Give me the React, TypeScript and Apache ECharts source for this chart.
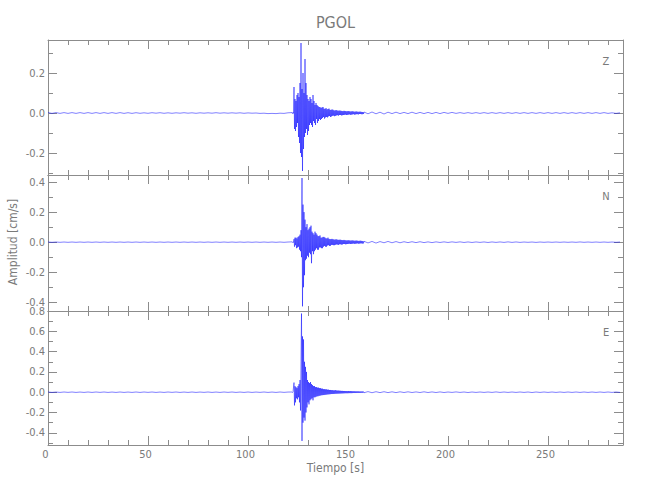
import React, { useEffect, useRef } from "react";
import * as echarts from "echarts";

const TITLE = "PGOL";
const X_NAME = "Tiempo [s]";
const Y_NAME = "Amplitud [cm/s]";
const CHANNELS = ["Z", "N", "E"];
const X_MAX = 287.5;
const X_MAJOR = [0, 50, 100, 150, 200, 250];
const X_MINOR = [10, 20, 30, 40, 60, 70, 80, 90, 110, 120, 130, 140, 160, 170, 180, 190, 210, 220, 230, 240, 260, 270, 280];

const Y_RANGES: [number, number][] = [[-0.31, 0.365], [-0.458, 0.447], [-0.52, 0.8]];
const Y_MAJOR = [[-0.2, 0, 0.2], [-0.4, -0.2, 0, 0.2, 0.4], [-0.4, -0.2, 0, 0.2, 0.4, 0.6, 0.8]];
const Y_MINOR = [[-0.3, -0.1, 0.1, 0.3], [-0.3, -0.1, 0.1, 0.3], [-0.5, -0.3, -0.1, 0.1, 0.3, 0.5, 0.7]];

// sampling of the three read segments (seconds)
const PRE_T0 = 0, PRE_DT = 2;
const EVT_T0 = 122, EVT_DT = 0.25;
const POST_T0 = 158, POST_DT = 2;

const zPre = [0.002, -0.002, 0.002, -0.002, 0.002, -0.002, 0.002, -0.002, 0.002, -0.002,
  0.002, -0.002, 0.002, -0.002, 0.002, -0.002, 0.002, -0.002, 0.002, -0.002,
  0.0015, -0.002, 0.0015, -0.0015, 0.001, -0.0015, 0.0015, -0.001, 0.0015, -0.0015,
  0.001, -0.0015, 0.001, -0.001, 0.0015, -0.001, 0.001, -0.0015, 0.001, -0.001,
  0.001, -0.001, 0.0015, -0.001, 0.001, -0.001, 0.001, -0.001, 0.001, -0.0015,
  0.0005, -0.001, 0.0, -0.002, -0.001, -0.003, -0.002, -0.003, -0.001, -0.002,
  0.001];
const zEvt = [0.002, -0.003, 0.003, -0.002, 0.13, -0.08, 0.07, -0.09,
  0.06, -0.07, 0.09, -0.05, 0.1, -0.12, 0.08, -0.15,
  0.15, -0.2, 0.35, -0.22, 0.12, -0.29, 0.2, -0.18,
  0.1, -0.12, 0.27, -0.1, 0.15, -0.08, 0.09, -0.11,
  0.07, -0.09, 0.06, -0.06, 0.08, -0.05, 0.07, -0.06,
  0.05, -0.07, 0.09, -0.04, 0.06, -0.05, 0.04, -0.06,
  0.05, -0.03, 0.04, -0.05, 0.035, -0.04, 0.03, -0.03,
  0.03, -0.035, 0.025, -0.03, 0.028, -0.025, 0.03, -0.02,
  0.022, -0.028, 0.02, -0.022, 0.025, -0.02, 0.018, -0.022,
  0.02, -0.017, 0.022, -0.015, 0.016, -0.02, 0.015, -0.017,
  0.018, -0.014, 0.016, -0.013, 0.013, -0.016, 0.012, -0.014,
  0.015, -0.012, 0.013, -0.011, 0.011, -0.013, 0.012, -0.01,
  0.012, -0.01, 0.011, -0.012, 0.01, -0.011, 0.009, -0.01,
  0.011, -0.009, 0.01, -0.008, 0.009, -0.01, 0.008, -0.009,
  0.01, -0.008, 0.009, -0.007, 0.008, -0.009, 0.007, -0.008,
  0.009, -0.007, 0.008, -0.006, 0.007, -0.008, 0.006, -0.007,
  0.008, -0.006, 0.007, -0.006, 0.006, -0.007, 0.006, -0.005,
  0.007, -0.005, 0.006, -0.006, 0.005, -0.006, 0.005, -0.005];
const zPost = [0.005, -0.004, 0.005, -0.004, 0.004, -0.005, 0.004, -0.003, 0.004, -0.003,
  0.003, -0.003, 0.004, -0.003, 0.003, -0.003, 0.003, -0.003, 0.003, -0.003,
  0.003, -0.002, 0.003, -0.002, 0.002, -0.002, 0.002, -0.002, 0.002, -0.002,
  0.002, -0.002, 0.002, -0.002, 0.002, -0.002, 0.002, -0.002, 0.002, -0.002,
  0.002, -0.002, 0.002, -0.002, 0.002, -0.002, 0.002, -0.002, 0.002, -0.002,
  0.002, -0.002, 0.002, -0.002, 0.002, -0.002, 0.002, -0.002, 0.002, -0.002,
  0.002, -0.002, 0.001, -0.002, 0.001];

const nPre = [0.001, -0.001, 0.001, -0.001, 0.001, -0.001, 0.001, -0.001, 0.001, -0.001,
  0.001, -0.001, 0.001, -0.001, 0.001, -0.001, 0.001, -0.001, 0.001, -0.001,
  0.001, -0.001, 0.001, -0.001, 0.001, -0.001, 0.001, -0.001, 0.001, -0.001,
  0.001, -0.001, 0.001, -0.001, 0.001, -0.001, 0.001, -0.001, 0.001, -0.001,
  0.001, -0.001, 0.001, -0.001, 0.001, -0.001, 0.001, -0.001, 0.001, -0.001,
  0.001, -0.001, 0.001, -0.001, 0.001, -0.001, 0.001, -0.001, 0.001, -0.001,
  0.001];
const nEvt = [0.002, -0.002, 0.003, -0.002, 0.02, -0.03, 0.03, -0.02,
  0.03, -0.04, 0.025, -0.035, 0.035, -0.03, 0.04, -0.05,
  0.05, -0.06, 0.08, -0.1, 0.427, -0.427, 0.25, -0.3,
  0.2, -0.22, 0.15, -0.12, 0.1, -0.11, 0.12, -0.09,
  0.08, -0.1, 0.09, -0.07, 0.1, -0.08, 0.11, -0.14,
  0.07, -0.06, 0.06, -0.08, 0.05, -0.06, 0.07, -0.05,
  0.06, -0.04, 0.05, -0.05, 0.04, -0.05, 0.04, -0.035,
  0.045, -0.035, 0.03, -0.04, 0.03, -0.04, 0.035, -0.03,
  0.035, -0.025, 0.03, -0.03, 0.025, -0.03, 0.025, -0.022,
  0.03, -0.02, 0.022, -0.025, 0.02, -0.024, 0.02, -0.018,
  0.022, -0.018, 0.019, -0.02, 0.018, -0.02, 0.016, -0.017,
  0.02, -0.015, 0.017, -0.016, 0.016, -0.018, 0.015, -0.014,
  0.017, -0.014, 0.015, -0.016, 0.014, -0.015, 0.013, -0.012,
  0.015, -0.012, 0.013, -0.014, 0.012, -0.013, 0.011, -0.012,
  0.013, -0.011, 0.012, -0.01, 0.011, -0.012, 0.01, -0.011,
  0.012, -0.01, 0.011, -0.009, 0.01, -0.011, 0.009, -0.01,
  0.011, -0.009, 0.01, -0.008, 0.009, -0.01, 0.008, -0.009,
  0.01, -0.008, 0.009, -0.008, 0.008, -0.009, 0.007, -0.008];
const nPost = [0.006, -0.005, 0.005, -0.006, 0.004, -0.004, 0.005, -0.004, 0.004, -0.004,
  0.003, -0.003, 0.003, -0.003, 0.003, -0.003, 0.002, -0.003, 0.002, -0.002,
  0.002, -0.002, 0.002, -0.0015, 0.002, -0.002, 0.0015, -0.002, 0.0015, -0.0015,
  0.0015, -0.002, 0.0015, -0.0015, 0.0015, -0.0015, 0.002, -0.0015, 0.0015, -0.0015,
  0.001, -0.001, 0.001, -0.0015, 0.001, -0.001, 0.001, -0.001, 0.001, -0.001,
  0.001, -0.001, 0.001, -0.001, 0.0015, -0.001, 0.001, -0.001, 0.001, -0.001,
  0.001, -0.001, 0.001, -0.001, 0.001];

const ePre = [0.002, -0.002, 0.0015, -0.002, 0.002, -0.0015, 0.002, -0.002, 0.0015, -0.002,
  0.002, -0.002, 0.002, -0.0015, 0.002, -0.002, 0.0015, -0.002, 0.002, -0.002,
  0.0015, -0.002, 0.002, -0.002, 0.002, -0.0015, 0.002, -0.002, 0.0015, -0.002,
  0.002, -0.0015, 0.002, -0.002, 0.0015, -0.002, 0.002, -0.002, 0.0015, -0.0015,
  0.002, -0.002, 0.0015, -0.002, 0.002, -0.0015, 0.002, -0.002, 0.0015, -0.002,
  0.002, -0.002, 0.0015, -0.0015, 0.002, -0.002, 0.0015, -0.002, 0.002, -0.0015,
  0.0015];
const eEvt = [0.002, -0.003, 0.002, -0.002, 0.095, -0.13, 0.06, -0.1,
  0.05, -0.06, 0.04, -0.07, 0.06, -0.05, 0.08, -0.1,
  0.12, -0.18, 0.3, 0.775, -0.48, 0.55, -0.3, 0.52,
  -0.25, 0.3, -0.28, 0.25, -0.2, 0.2, -0.15, 0.12,
  -0.1, 0.1, -0.12, 0.09, -0.08, 0.1, -0.07, 0.08,
  -0.06, 0.07, -0.08, 0.06, -0.05, 0.06, -0.05, 0.05,
  -0.045, 0.05, -0.04, 0.045, -0.04, 0.045, -0.035, 0.04,
  -0.035, 0.04, -0.03, 0.035, -0.03, 0.035, -0.028, 0.03,
  -0.028, 0.03, -0.025, 0.028, -0.025, 0.028, -0.022, 0.025,
  -0.022, 0.025, -0.02, 0.022, -0.02, 0.022, -0.018, 0.02,
  -0.018, 0.02, -0.017, 0.018, -0.017, 0.018, -0.015, 0.02,
  -0.015, 0.017, -0.014, 0.016, -0.014, 0.016, -0.013, 0.015,
  -0.013, 0.014, -0.012, 0.013, -0.012, 0.013, -0.011, 0.012,
  -0.011, 0.012, -0.01, 0.011, -0.01, 0.011, -0.01, 0.01,
  -0.01, 0.012, -0.009, 0.01, -0.009, 0.011, -0.009, 0.01,
  -0.009, 0.009, -0.008, 0.009, -0.008, 0.009, -0.008, 0.008,
  -0.008, 0.008, -0.007, 0.008, -0.007, 0.008, -0.007, 0.007,
  -0.007, 0.007, -0.006, 0.007, -0.006, 0.007, -0.006, 0.006];
const ePost = [-0.005, 0.006, -0.005, 0.005, -0.004, 0.005, -0.004, 0.004, -0.004, 0.004,
  -0.003, 0.004, -0.003, 0.003, -0.003, 0.004, -0.003, 0.003, -0.003, 0.003,
  -0.003, 0.002, -0.002, 0.003, -0.002, 0.002, -0.003, 0.002, -0.002, 0.002,
  -0.002, 0.002, -0.002, 0.003, -0.002, 0.002, -0.002, 0.002, -0.002, 0.002,
  -0.002, 0.002, -0.003, 0.002, -0.002, 0.002, -0.002, 0.002, -0.002, 0.002,
  -0.002, 0.002, -0.002, 0.002, -0.002, 0.002, -0.002, 0.002, -0.002, 0.002,
  -0.002, 0.002, -0.002, 0.002, -0.002];

const SEGMENTS = [
  [zPre, zEvt, zPost],
  [nPre, nEvt, nPost],
  [ePre, eEvt, ePost],
];

const AXIS_COLOR = "#8c8c8c";
const TEXT_COLOR = "#7a7a7a";
const FONT = "'DejaVu Sans Condensed', 'DejaVu Sans', sans-serif";
const TRACE_COLOR = "#0000ff";

const GRID_LEFT = 48;
const GRID_WIDTH = 575;
const GRID_TOPS = [40, 175, 311];
const GRID_HEIGHTS = [135, 136, 134];

function buildTrace(seg: number[][]) {
  const [pre, evt, post] = seg;
  const out: number[][] = [];
  pre.forEach((v, i) => out.push([PRE_T0 + i * PRE_DT, v]));
  evt.forEach((v, i) => out.push([EVT_T0 + i * EVT_DT, v]));
  post.forEach((v, i) => out.push([POST_T0 + i * POST_DT, v]));
  return out;
}

const hiddenLine = { show: false, onZero: false, lineStyle: { color: AXIS_COLOR, width: 1 } };
const shownLine = { show: true, onZero: false, lineStyle: { color: AXIS_COLOR, width: 1 } };

function xAxesFor(g: number, labels: boolean) {
  const base = {
    type: "value",
    gridIndex: g,
    min: 0,
    max: X_MAX,
    splitLine: { show: false },
    axisLine: hiddenLine,
    axisLabel: { show: false },
  };
  return [
    {
      ...base,
      position: "bottom",
      axisLine: shownLine,
      axisTick: { show: true, inside: true, length: 9, customValues: X_MAJOR, lineStyle: { color: AXIS_COLOR } },
      axisLabel: {
        show: labels,
        customValues: X_MAJOR,
        color: TEXT_COLOR,
        fontFamily: FONT,
        fontSize: 11,
        margin: 4,
        padding: [0, 5, 0, 0],
        formatter: (v: number) => String(v),
      },
    },
    {
      ...base,
      position: "bottom",
      axisTick: { show: true, inside: true, length: 5, customValues: X_MINOR, lineStyle: { color: AXIS_COLOR } },
    },
    {
      ...base,
      position: "top",
      axisLine: shownLine,
      axisTick: { show: true, inside: true, length: 9, customValues: X_MAJOR, lineStyle: { color: AXIS_COLOR } },
    },
    {
      ...base,
      position: "top",
      axisTick: { show: true, inside: true, length: 5, customValues: X_MINOR, lineStyle: { color: AXIS_COLOR } },
    },
  ];
}

function yAxesFor(g: number) {
  const [mn, mx] = Y_RANGES[g];
  const base = {
    type: "value",
    gridIndex: g,
    min: mn,
    max: mx,
    splitLine: { show: false },
    axisLine: hiddenLine,
    axisLabel: { show: false },
  };
  return [
    {
      ...base,
      position: "left",
      axisLine: shownLine,
      axisTick: { show: true, inside: true, length: 9, customValues: Y_MAJOR[g], lineStyle: { color: AXIS_COLOR } },
      axisLabel: {
        show: true,
        customValues: Y_MAJOR[g],
        color: TEXT_COLOR,
        fontFamily: FONT,
        fontSize: 11,
        margin: 3,
        formatter: (v: number) => v.toFixed(1),
      },
    },
    {
      ...base,
      position: "left",
      axisTick: { show: true, inside: true, length: 5, customValues: Y_MINOR[g], lineStyle: { color: AXIS_COLOR } },
    },
    {
      ...base,
      position: "right",
      axisLine: shownLine,
      axisTick: { show: true, inside: true, length: 9, customValues: Y_MAJOR[g], lineStyle: { color: AXIS_COLOR } },
    },
    {
      ...base,
      position: "right",
      axisTick: { show: true, inside: true, length: 5, customValues: Y_MINOR[g], lineStyle: { color: AXIS_COLOR } },
    },
  ];
}

export default function App() {
  const ref = useRef<HTMLDivElement>(null);
  useEffect(() => {
    document.body.style.margin = "0";
    if (!ref.current) return;
    const chart = echarts.init(ref.current, undefined, { renderer: "svg" });
    const grids = CHANNELS.map((_, g) => ({
      left: GRID_LEFT,
      width: GRID_WIDTH,
      top: GRID_TOPS[g],
      height: GRID_HEIGHTS[g],
      containLabel: false,
    }));
    const xAxis: any[] = [];
    const yAxis: any[] = [];
    CHANNELS.forEach((_, g) => {
      xAxis.push(...xAxesFor(g, g === CHANNELS.length - 1));
      yAxis.push(...yAxesFor(g));
    });
    const series = CHANNELS.map((name, g) => ({
      name,
      type: "line",
      xAxisIndex: g * 4,
      yAxisIndex: g * 4,
      data: buildTrace(SEGMENTS[g]),
      symbol: "none",
      showSymbol: false,
      clip: true,
      lineStyle: { color: TRACE_COLOR, width: 0.5 },
      emphasis: { disabled: true },
      silent: true,
    }));
    const graphic: any[] = [
      {
        type: "text",
        x: GRID_LEFT + GRID_WIDTH / 2,
        y: 22,
        style: { text: TITLE, fill: TEXT_COLOR, font: `16px ${FONT}`, textAlign: "center", textVerticalAlign: "middle" },
      },
      {
        type: "text",
        x: GRID_LEFT + GRID_WIDTH / 2,
        y: 468,
        style: { text: X_NAME, fill: TEXT_COLOR, font: `12px ${FONT}`, textAlign: "center", textVerticalAlign: "middle" },
      },
      {
        type: "text",
        x: 13,
        y: 242,
        rotation: Math.PI / 2,
        style: { text: Y_NAME, fill: TEXT_COLOR, font: `12px ${FONT}`, textAlign: "center", textVerticalAlign: "middle" },
      },
    ];
    CHANNELS.forEach((name, g) => {
      graphic.push({
        type: "text",
        x: 606,
        y: GRID_TOPS[g] + 21,
        style: { text: name, fill: TEXT_COLOR, font: `11px ${FONT}`, textAlign: "center", textVerticalAlign: "middle" },
      });
    });
    chart.setOption({
      animation: false,
      backgroundColor: "#ffffff",
      grid: grids,
      xAxis,
      yAxis,
      series,
      graphic,
    });
    return () => chart.dispose();
  }, []);
  return <div ref={ref} style={{ width: 650, height: 500 }} />;
}
